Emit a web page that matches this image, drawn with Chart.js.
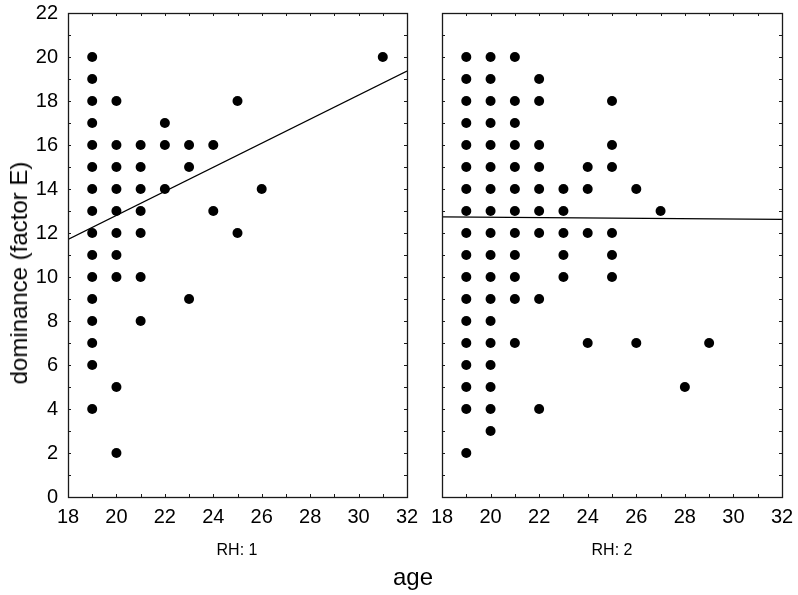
<!DOCTYPE html>
<html>
<head>
<meta charset="utf-8">
<script src="https://cdn.jsdelivr.net/npm/chart.js@4.4.0/dist/chart.umd.min.js"></script>
<style>
body { margin: 0; background: #fff; width: 798px; height: 595px; position: relative; overflow: hidden; font-family: 'Liberation Sans', Arial, sans-serif; }
.box { position: absolute; top: 0; height: 595px; }
.lbl { position: absolute; color: #000; white-space: nowrap; transform: translateX(-50%); }
.ylbl { position: absolute; color: #000; white-space: nowrap; font-size: 24px; line-height: 24px; transform: translate(-50%, -50%) rotate(-90deg); }
</style>
</head>
<body>
<div class="box" style="left:0;width:425px"><canvas id="c1"></canvas></div>
<div class="box" style="left:425px;width:373px"><canvas id="c2"></canvas></div>
<div class="ylbl" style="left:19px;top:273px">dominance (factor E)</div>
<div class="lbl" style="left:237px;top:542px;font-size:16px;line-height:16px">RH: 1</div>
<div class="lbl" style="left:612px;top:542px;font-size:16px;line-height:16px">RH: 2</div>
<div class="lbl" style="left:413px;top:565px;font-size:24px;line-height:24px">age</div>
<script>
// RH: 1 panel (age, dominance)
const rh1Age = [19,19,19,19,19,19,19,19,19,19,19,19,19,19,19,19,
                20,20,20,20,20,20,20,20,20,20,
                21,21,21,21,21,21,21,
                22,22,22, 23,23,23, 24,24, 25,25, 26, 31];
const rh1Dom = [20,19,18,17,16,15,14,13,12,11,10,9,8,7,6,4,
                18,16,15,14,13,12,11,10,5,2,
                16,15,14,13,12,10,8,
                17,16,14, 16,15,9, 16,13, 18,12, 14, 20];

// RH: 2 panel
const rh2Age = [19,19,19,19,19,19,19,19,19,19,19,19,19,19,19,19,19,19,
                20,20,20,20,20,20,20,20,20,20,20,20,20,20,20,20,20,20,
                21,21,21,21,21,21,21,21,21,21,21,21,
                22,22,22,22,22,22,22,22,22,
                23,23,23,23,23,
                24,24,24,24,
                25,25,25,25,25,25,
                26,26, 27, 28, 29];
const rh2Dom = [20,19,18,17,16,15,14,13,12,11,10,9,8,7,6,5,4,2,
                20,19,18,17,16,15,14,13,12,11,10,9,8,7,6,5,4,3,
                20,18,17,16,15,14,13,12,11,10,9,7,
                19,18,16,15,14,13,12,9,4,
                14,13,12,11,10,
                15,14,12,7,
                18,16,15,12,11,10,
                14,7, 13, 5, 7];

// fitted lines, read at the panel edges
const lineAge = [18, 32];
const rh1Fit = [11.71, 19.36];
const rh2Fit = [12.73, 12.62];

const xMin = 18, xMax = 32, yMin = 0, yMax = 22;
const fontFam = "'Liberation Sans', Arial, sans-serif";

function pts(xs, ys) {
    return xs.map((x, i) => ({ x: x, y: ys[i] }));
}

// frame around the plot with small inward ticks on every side
const framePlugin = {
    id: 'frame',
    afterDatasetsDraw(chart) {
        const { ctx, chartArea: a, scales } = chart;
        const sx = scales.x, sy = scales.y;
        ctx.save();
        ctx.strokeStyle = '#1a1a1a';
        ctx.lineWidth = 1;
        ctx.beginPath();
        for (let v = xMin + 1; v < xMax; v++) {
            let px = Math.round(sx.getPixelForValue(v)) + 0.5;
            ctx.moveTo(px, a.bottom); ctx.lineTo(px, a.bottom - 3);
            ctx.moveTo(px, a.top); ctx.lineTo(px, a.top + 3);
        }
        for (let v = yMin + 1; v < yMax; v++) {
            let py = Math.round(sy.getPixelForValue(v)) + 0.5;
            ctx.moveTo(a.left, py); ctx.lineTo(a.left + 3, py);
            ctx.moveTo(a.right, py); ctx.lineTo(a.right - 3, py);
        }
        ctx.stroke();
        ctx.lineWidth = 1.3;
        ctx.strokeRect(Math.round(a.left) + 0.5, Math.round(a.top) + 0.5,
            Math.round(a.right - a.left), Math.round(a.bottom - a.top));
        ctx.restore();
    }
};

function makeChart(id, xs, ys, fit, showY, pad) {
    let ctx = document.getElementById(id);
    return new Chart(ctx, {
        type: 'scatter',
        data: {
            datasets: [
                {
                    data: pts(xs, ys),
                    backgroundColor: '#000',
                    borderWidth: 0,
                    pointRadius: 5,
                    pointHoverRadius: 5
                },
                {
                    type: 'line',
                    data: pts(lineAge, fit),
                    borderColor: '#000',
                    borderWidth: 1.2,
                    pointRadius: 0,
                    fill: false
                }
            ]
        },
        options: {
            responsive: true,
            maintainAspectRatio: false,
            animation: false,
            layout: { padding: pad },
            scales: {
                x: {
                    type: 'linear',
                    min: xMin, max: xMax,
                    grid: { display: false, drawTicks: false },
                    border: { display: false },
                    ticks: { stepSize: 2, padding: 8, color: '#000', font: { family: fontFam, size: 20 } },
                    afterFit: s => { s.height = 98; s.paddingLeft = 0; s.paddingRight = 0; }
                },
                y: {
                    display: showY,
                    min: yMin, max: yMax,
                    grid: { display: false, drawTicks: false },
                    border: { display: false },
                    ticks: { stepSize: 2, padding: 10, color: '#000', font: { family: fontFam, size: 20 } },
                    afterFit: s => { s.width = showY ? 68 : 0; s.paddingTop = 0; s.paddingBottom = 0; }
                }
            },
            plugins: {
                legend: { display: false },
                tooltip: { enabled: false }
            }
        },
        plugins: [framePlugin]
    });
}

makeChart('c1', rh1Age, rh1Dom, rh1Fit, true, { left: 0, top: 13, right: 18, bottom: 0 });
makeChart('c2', rh2Age, rh2Dom, rh2Fit, false, { left: 17, top: 13, right: 16, bottom: 0 });
</script>
</body>
</html>
